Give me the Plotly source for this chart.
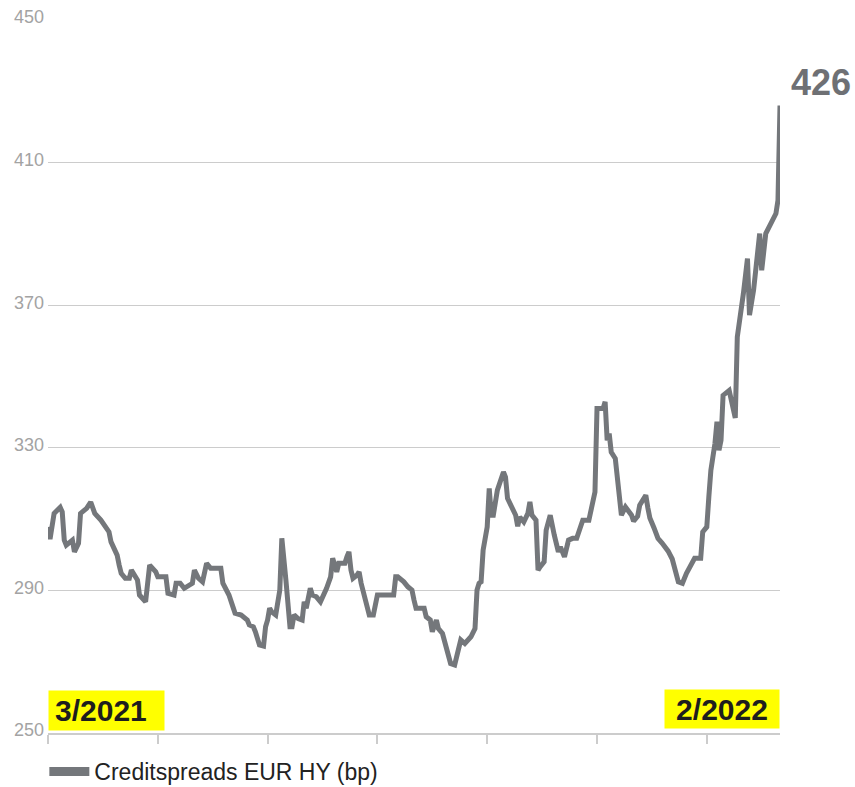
import plotly.graph_objects as go
import pandas as pd

# ---------------- data ----------------
start_date = "2021-03-01"
day_offsets = [0, 1, 3, 6, 7, 8, 9, 12, 13, 15, 16, 19, 21, 23, 26, 30, 31, 34, 35, 36,
               38, 40, 41, 43, 44, 45, 48, 50, 53, 54, 58, 59, 62, 63, 65, 67, 69, 71, 72, 74,
               76, 77, 78, 80, 85, 86, 89, 91, 92, 95, 98, 99, 101, 102, 104, 106, 107, 108, 109, 110,
               112, 114, 115, 117, 119, 120, 121, 123, 125, 126, 127, 129, 130, 132, 134, 137, 139, 140, 142, 143,
               146, 147, 148, 149, 150, 152, 153, 154, 155, 157, 158, 160, 162, 170, 171, 172, 175, 177, 179, 180,
               181, 185, 186, 188, 189, 191, 192, 194, 196, 198, 200, 202, 203, 205, 208, 210, 211, 212, 213, 214,
               215, 216, 217, 218, 219, 221, 224, 225, 226, 228, 230, 231, 232, 234, 236, 237, 238, 240, 241, 242,
               244, 245, 247, 249, 251, 252, 254, 256, 258, 260, 262, 263, 266, 267, 269, 270, 273, 274, 275, 276,
               277, 279, 281, 282, 284, 286, 287, 288, 290, 291, 294, 295, 296, 298, 300, 302, 305, 307, 310, 312,
               314, 318, 321, 322, 324, 325, 326, 328, 329, 330, 331, 332, 335, 338, 339, 342, 344, 345, 347, 350,
               351, 353, 356, 358, 359, 360]
spread_bp = [307.8, 304.4, 311.6, 313.3, 312.0, 304.1, 302.7, 304.1, 300.8, 303.2, 311.6, 313.0, 314.8, 311.6, 309.7, 306.4, 303.6, 299.9, 297.1, 294.8,
             293.4, 293.4, 295.7, 293.8, 292.9, 288.7, 286.8, 297.1, 295.2, 293.8, 293.8, 289.2, 288.7, 292.0, 292.0, 290.6, 291.5, 292.0, 295.7, 293.4,
             292.4, 294.8, 297.6, 296.2, 296.2, 292.0, 288.7, 285.3, 283.6, 283.1, 281.7, 280.3, 279.8, 278.4, 274.7, 274.4, 279.8, 281.7, 285.0, 284.0,
             283.1, 290.1, 304.6, 292.9, 279.8, 279.8, 283.1, 282.1, 281.7, 286.8, 285.0, 290.6, 288.7, 288.2, 286.8, 290.6, 293.8, 299.0, 295.2, 297.6,
             297.6, 299.4, 300.8, 295.7, 293.4, 294.3, 295.2, 292.0, 289.6, 285.3, 283.1, 283.1, 288.7, 288.7, 293.8, 293.8, 292.4, 291.0, 290.1, 287.3,
             285.0, 285.0, 282.6, 281.7, 278.4, 281.7, 279.3, 277.9, 273.7, 269.5, 269.1, 273.3, 276.1, 275.1, 277.0, 279.3, 290.1, 292.0, 292.4, 301.3,
             306.0, 307.8, 318.6, 311.1, 311.1, 318.1, 323.2, 321.8, 315.8, 313.0, 311.1, 308.0, 310.6, 309.2, 311.6, 314.8, 311.1, 309.7, 295.7, 296.6,
             298.0, 306.9, 311.1, 305.5, 300.8, 302.2, 299.4, 304.1, 304.6, 304.6, 308.3, 309.7, 309.7, 312.5, 317.6, 341.0, 341.0, 342.9, 332.1, 334.0,
             328.8, 327.0, 317.2, 311.1, 313.4, 312.0, 311.1, 309.4, 310.8, 313.9, 316.7, 313.2, 310.3, 307.6, 304.6, 303.3, 301.0, 298.8, 292.4, 292.0,
             294.8, 299.0, 299.0, 306.4, 307.8, 316.2, 323.7, 331.2, 337.3, 329.3, 332.1, 344.7, 346.1, 338.4, 361.1, 373.3, 383.1, 367.2, 374.2, 390.1,
             379.8, 390.1, 393.8, 395.7, 399.4, 426.0]
series_name = "Creditspreads EUR HY (bp)"
y_ticks = [250, 290, 330, 370, 410, 450]
start_label = "3/2021"
end_label = "2/2022"
last_value_label = "426"

# ---------------- style ----------------
LINE = "#74777b"
GRID = "#cccccc"
FONT = "Liberation Sans, Arial, Helvetica, sans-serif"

dates = pd.Timestamp(start_date) + pd.to_timedelta(day_offsets, unit="D")
tick_dates = pd.date_range(start_date, periods=7, freq="54D")

fig = go.Figure()
fig.add_trace(go.Scatter(x=dates, y=spread_bp, mode="lines",
                         line=dict(color=LINE, width=5), showlegend=False,
                         hoverinfo="skip"))
fig.add_trace(go.Scatter(x=[None], y=[None], mode="lines",
                         line=dict(color=LINE, width=9), name=series_name))

fig.update_layout(
    width=855, height=787,
    margin=dict(l=48, r=75, t=20, b=54, autoexpand=False),
    paper_bgcolor="white", plot_bgcolor="white",
    font=dict(family=FONT),
    xaxis=dict(type="date", range=[dates[0], dates[-1]], tickmode="array",
               tickvals=tick_dates, showticklabels=False, ticks="outside",
               ticklen=9, tickwidth=1.5, tickcolor=GRID, showline=True,
               linecolor=GRID, linewidth=1.5, showgrid=False, zeroline=False),
    yaxis=dict(range=[250, 450], tickmode="array", tickvals=y_ticks,
               showgrid=True, gridcolor=GRID, gridwidth=1, zeroline=False,
               ticks="", tickfont=dict(size=18, color="#a3a3a3"),
               ticklabelstandoff=3, ticklabelshift=-3),
    legend=dict(orientation="h", x=-0.005, xanchor="left", y=-0.054, yanchor="middle",
                font=dict(size=23, color="#222222"), itemwidth=40,
                borderwidth=0, bgcolor="rgba(0,0,0,0)"),
    showlegend=True,
)

fig.add_annotation(x=dates[-1], y=spread_bp[-1], text="<b>" + last_value_label + "</b>",
                   showarrow=False, xanchor="left", yanchor="middle", xshift=9, yshift=23,
                   font=dict(size=36, color="#6e7074"))
fig.add_annotation(xref="paper", yref="paper", x=0, y=0, xanchor="left", yanchor="bottom",
                   yshift=2, text="<b>" + start_label + "</b>", showarrow=False,
                   bgcolor="#ffff00", borderpad=6, width=103, height=27, align="left",
                   font=dict(size=30, color="#1e1e1e"))
fig.add_annotation(xref="paper", yref="paper", x=1, y=0, xanchor="right", yanchor="bottom",
                   yshift=4, text="<b>" + end_label + "</b>", showarrow=False,
                   bgcolor="#ffff00", borderpad=6, width=102, height=26, align="center",
                   font=dict(size=30, color="#1e1e1e"))

fig.write_html("out.html")
